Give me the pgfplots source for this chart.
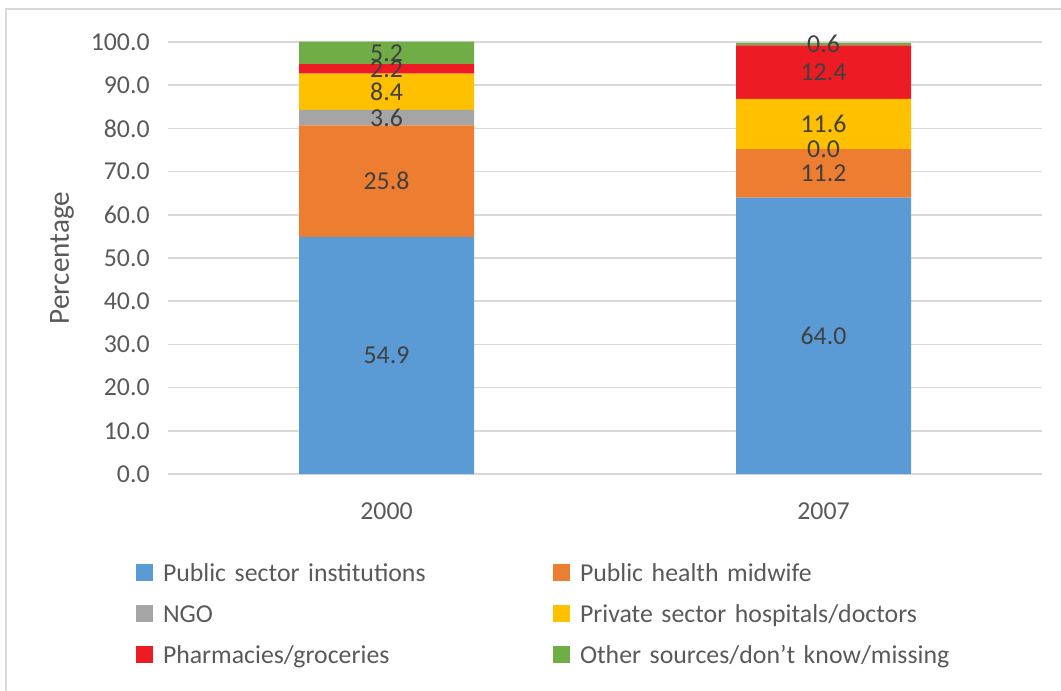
\documentclass[border=0pt]{standalone}
\usepackage{fontspec}
\setmainfont{Carlito}
\usepackage{pgfplots}
\usepackage{pgfplotstable}
\pgfplotsset{compat=1.18}
\definecolor{cBlue}{HTML}{5B9BD5}
\definecolor{cOrange}{HTML}{ED7D31}
\definecolor{cGray}{HTML}{A5A5A5}
\definecolor{cYellow}{HTML}{FFC000}
\definecolor{cRed}{HTML}{ED1C24}
\definecolor{cGreen}{HTML}{70AD47}
\definecolor{cGrid}{HTML}{D9D9D9}
\definecolor{cTick}{HTML}{595959}
\definecolor{cLab}{HTML}{404040}
\newcommand\cf{\fontsize{12.9bp}{15bp}\selectfont}
\newcommand\cfl{\fontsize{14.6bp}{17bp}\selectfont}
\pgfplotstableread{
x v1 v2 v3 v4 v5 v6
0 54.9 25.8 3.6 8.4 2.2 5.2
1 64.0 11.2 0.01 11.6 12.4 0.6
}\data
\pgfplotsset{mybar/.style={fill=#1, draw=none,
  legend image code/.code={\fill[#1] (0bp,-4.25bp) rectangle (8.5bp,4.25bp);}}}
\begin{document}
\begin{tikzpicture}
\useasboundingbox (0,0) rectangle (530.5bp,345.5bp);
\draw[cGrid, line width=0.75bp] (3bp,0) -- (3bp,341bp) -- (530.5bp,341bp);
\begin{axis}[
  at={(84bp,108.5bp)}, anchor=south west,
  scale only axis, width=437bp, height=216bp,
  ybar stacked, bar width=87.5bp,
  xmin=-0.5, xmax=1.5, ymin=0, ymax=100,
  clip=false,
  xtick={0,1}, xticklabels={2000,2007},
  ytick={0,10,...,100},
  yticklabel={\pgfmathprintnumber[fixed,fixed zerofill,precision=1,assume math mode=true]{\tick}},
  ticklabel style={font=\cf, text=cTick},
  yticklabel style={inner sep=0pt, xshift=-9bp},
  xticklabel style={inner sep=0pt, yshift=-14bp},
  axis line style={draw=none},
  major tick style={draw=none},
  ymajorgrids, grid style={cGrid, line width=0.75bp},
  ylabel={Percentage},
  every axis y label/.style={at={(axis description cs:-0.1213,0.5)}, anchor=center, rotate=90, font=\cfl, text=cTick},
  point meta=explicit,
  nodes near coords={\pgfmathprintnumber[fixed,fixed zerofill,precision=1,assume math mode=true]{\pgfplotspointmeta}},
  nodes near coords style={anchor=center, font=\cf, text=cLab, inner sep=0pt},
  legend columns=2,
  legend cell align=left,
  legend style={at={(rel axis cs:0,0)}, anchor=north west, xshift=-16bp, yshift=-45bp,
    draw=none, fill=none, inner sep=0pt, outer sep=0pt, font=\cf, text=cTick,
    nodes={inner sep=0pt, text height=8.5bp, text depth=0bp, text width=195bp, align=left},
    /tikz/every odd column/.append style={column sep=5bp},
    /tikz/every even column/.append style={column sep=0bp},
    row sep=12bp},
]
\addplot[mybar=cBlue] table[x=x,y=v1,meta=v1]{\data};
\addplot[mybar=cOrange] table[x=x,y=v2,meta=v2]{\data};
\addplot[mybar=cGray] table[x=x,y=v3,meta=v3]{\data};
\addplot[mybar=cYellow] table[x=x,y=v4,meta=v4]{\data};
\addplot[mybar=cRed] table[x=x,y=v5,meta=v5]{\data};
\addplot[mybar=cGreen] table[x=x,y=v6,meta=v6]{\data};
\legend{Public sector institutions, Public health midwife, NGO, Private sector hospitals/doctors, Pharmacies/groceries, Other sources/don’t know/missing}
\end{axis}
\end{tikzpicture}
\end{document}
